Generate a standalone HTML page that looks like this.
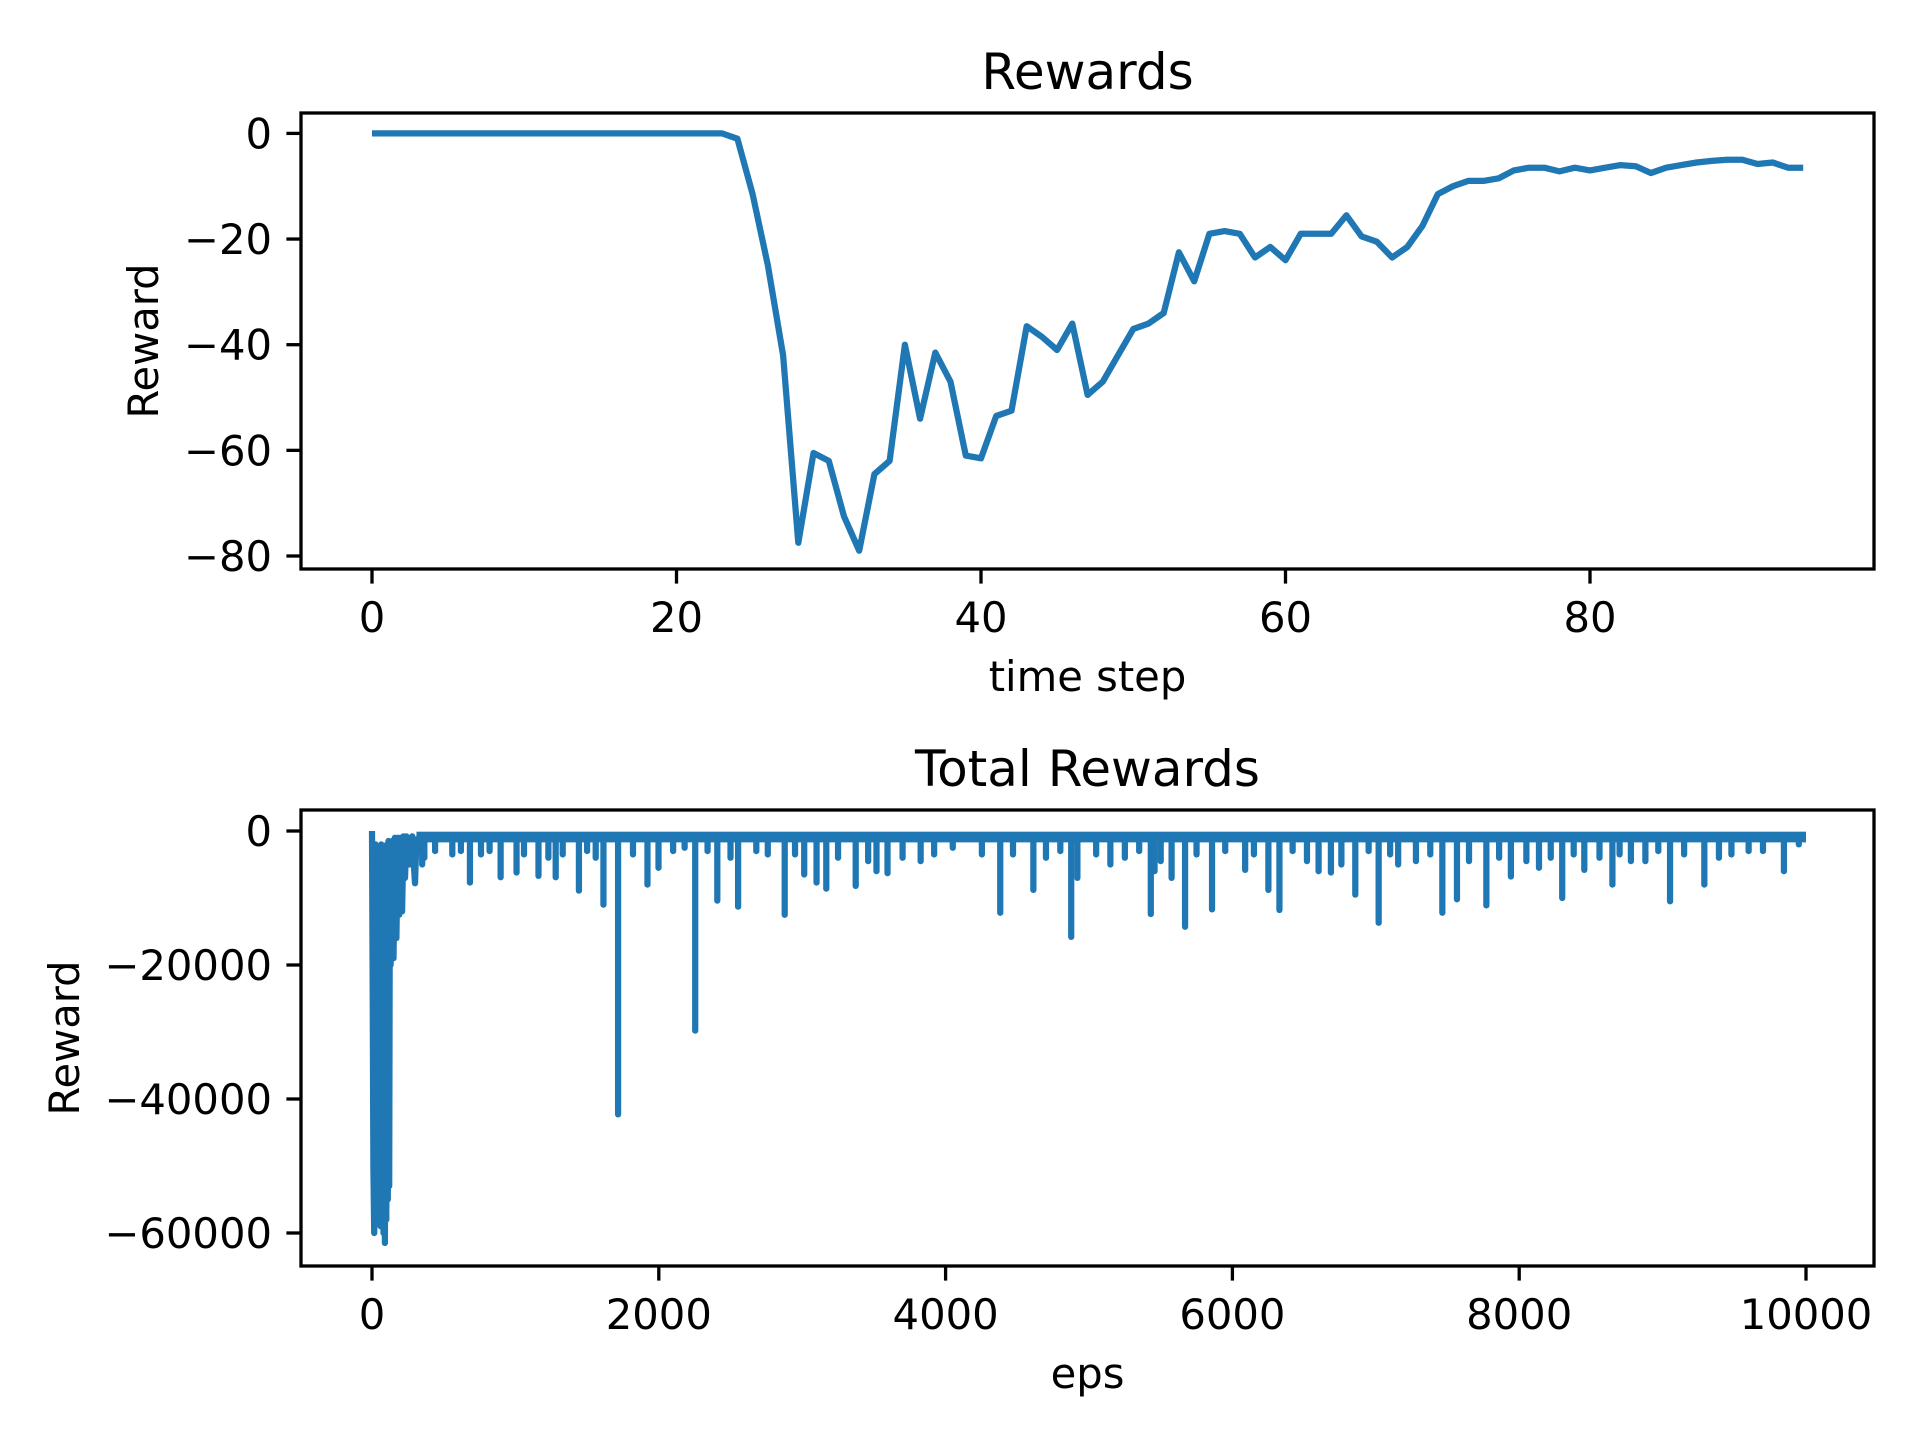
<!DOCTYPE html>
<html><head><meta charset="utf-8">
<style>
html,body{margin:0;padding:0;background:#fff;}
svg{display:block;}
text{font-family:"DejaVu Sans","Liberation Sans",sans-serif;fill:#000;}
</style></head>
<body>
<svg id="chart" width="1920" height="1440" viewBox="0 0 1920 1440" xmlns="http://www.w3.org/2000/svg">
<rect width="1920" height="1440" fill="#fff"/>
<g id="top"></g>
<g id="bot"></g>
</svg>
<script>
// ---- Top chart data ----
const topSteps = [];
const topRewards = [0,0,0,0,0,0,0,0,0,0,0,0,0,0,0,0,0,0,0,0,0,0,0,0,-1,-11.5,-25,-42,-77.5,-60.5,-62,-72.5,-79,-64.5,-62,-40,-54,-41.5,-47,-61,-61.5,-53.5,-52.5,-36.5,-38.5,-41,-36,-49.5,-47,-42,-37,-36,-34,-22.5,-28,-19,-18.5,-19,-23.5,-21.5,-24,-19,-19,-19,-15.5,-19.5,-20.5,-23.5,-21.5,-17.5,-11.5,-10,-9,-9,-8.5,-7,-6.5,-6.5,-7.2,-6.5,-7,-6.5,-6,-6.2,-7.5,-6.5,-6,-5.5,-5.2,-5,-5,-5.8,-5.5,-6.5,-6.5];
for (let i = 0; i < topRewards.length; i++) topSteps.push(i);
const topXTicks = [0,20,40,60,80];
const topYTicks = [0,-20,-40,-60,-80];

// ---- Bottom chart data ----
const earlyEps = [0,5,10,15,20,25,30,35,40,45,50,55,60,65,70,75,80,85,90,95,100,105,110,115,120,125,130,140,150,160,170,180,190,200,210,220,230,240,260,280,300,310];
const earlyVals = [0,-24000,-50000,-60000,-55000,-2000,-58000,-3000,-55000,-2500,-57000,-3000,-59000,-2000,-56000,-3000,-60000,-2500,-61500,-3000,-58000,-2000,-55000,-1500,-53000,-2000,-20000,-1500,-19000,-1000,-16000,-1000,-12500,-1000,-12000,-800,-7000,-800,-5000,-800,-7800,-800];
const spikeEps = [330,350,365,440,560,620,683,760,820,897,1008,1060,1161,1230,1281,1330,1443,1500,1560,1614,1716,1820,1921,1998,2100,2180,2254,2340,2408,2500,2553,2680,2760,2878,2950,3014,3100,3168,3250,3373,3460,3518,3595,3700,3826,3920,4050,4253,4381,4470,4612,4700,4800,4876,4919,5050,5149,5250,5350,5431,5457,5500,5576,5670,5750,5858,5950,6089,6150,6251,6328,6420,6520,6601,6687,6760,6857,6950,7020,7100,7156,7280,7380,7464,7566,7650,7771,7860,7942,8050,8138,8220,8300,8380,8454,8560,8650,8700,8779,8880,8970,9052,9150,9291,9393,9480,9600,9700,9846,9950];
const spikeVals = [-3000,-5000,-4000,-3000,-3500,-3000,-7700,-3500,-3000,-6900,-6200,-3500,-6700,-4000,-6900,-3500,-8900,-3000,-4000,-11000,-42300,-3500,-8000,-5500,-3000,-2500,-29800,-3000,-10400,-4000,-11300,-3000,-3500,-12500,-3500,-6500,-7700,-8600,-4000,-8200,-4500,-6000,-6300,-4000,-4500,-3500,-2500,-3500,-12200,-3500,-8800,-4000,-3000,-15800,-7000,-3500,-5000,-4000,-3000,-12400,-6000,-4500,-7000,-14300,-3500,-11700,-3000,-5800,-3500,-8800,-11800,-3000,-4500,-6000,-6200,-5000,-9500,-3000,-13700,-3500,-5000,-4500,-3500,-12200,-10200,-4500,-11100,-4000,-6800,-4500,-5500,-4000,-10000,-3500,-5800,-4000,-8000,-3500,-4500,-4500,-3000,-10500,-3500,-8000,-4000,-3500,-3000,-3000,-6000,-2000];
const baseBandTop = -100;
const baseBandBottom = -1700;
const lastEp = 10000;
const botXTicks = [0,2000,4000,6000,8000,10000];
const botYTicks = [0,-20000,-40000,-60000];

const NS = "http://www.w3.org/2000/svg";
const BLUE = "#1f77b4";
function el(tag, attrs, parent, txt) {
  const e = document.createElementNS(NS, tag);
  for (const k in attrs) e.setAttribute(k, attrs[k]);
  if (txt !== undefined) e.textContent = txt;
  parent.appendChild(e);
  return e;
}
function fmt(v){ return v < 0 ? "\u2212" + (-v) : String(v); }

function drawAxes(g, box, xs, ys, xTicks, yTicks, title, xlabel, ylabelX, prefix) {
  const t = el("text", {x:(box.l+box.r)/2, y:box.t-24, "font-size":50, "text-anchor":"middle"}, g, title);
  
  
  xTicks.forEach(v => {
    const x = xs(v);
    const tk = el("line", {x1:x, x2:x, y1:box.b, y2:box.b+14.6, stroke:"#000", "stroke-width":3.3}, g);
    
    
    const lb = el("text", {x:x, y:box.b+63, "font-size":41.7, "text-anchor":"middle"}, g, fmt(v));
    
    
  });
  yTicks.forEach(v => {
    const y = ys(v);
    const tk = el("line", {x1:box.l-14.6, x2:box.l, y1:y, y2:y, stroke:"#000", "stroke-width":3.3}, g);
    
    
    const lb = el("text", {x:box.l-29, y:y+15, "font-size":41.7, "text-anchor":"end"}, g, fmt(v));
    
    
  });
  const xl = el("text", {x:(box.l+box.r)/2, y:box.b+122, "font-size":41.7, "text-anchor":"middle"}, g, xlabel);
  
  
  const cy = (box.t+box.b)/2;
  const yl = el("text", {x:ylabelX, y:cy, "font-size":41.7, "text-anchor":"middle", transform:`rotate(-90 ${ylabelX} ${cy})`}, g, "Reward");
  
  
}
function frame(g, box, prefix) {
  const f = el("rect", {x:box.l, y:box.t, width:box.r-box.l, height:box.b-box.t, fill:"none", stroke:"#000", "stroke-width":3.3}, g);
  
  
}

// Top chart
(function(){
  const g = document.getElementById("top");
  const box = {l:301, r:1874, t:113, b:569};
  const xs = v => 372 + v * (1590-372)/80;
  const ys = v => 133.4 + (-v) * (556-133.4)/80;
  drawAxes(g, box, xs, ys, topXTicks, topYTicks, "Rewards", "time step", 158, "rewards");
  const pts = topSteps.map((s,i) => xs(s).toFixed(1) + "," + ys(topRewards[i]).toFixed(1)).join(" ");
  const line = el("polyline", {points:pts, fill:"none", stroke:BLUE, "stroke-width":6.25, "stroke-linejoin":"round"}, g);
  
  
  frame(g, box, "rewards");
})();

// Bottom chart
(function(){
  const g = document.getElementById("bot");
  const box = {l:301, r:1874, t:810, b:1266};
  const xs = v => 372 + v * (1806-372)/10000;
  const ys = v => 831 + (-v) * (1233-831)/60000;
  drawAxes(g, box, xs, ys, botXTicks, botYTicks, "Total Rewards", "eps", 79, "total-rewards");
  const band = el("rect", {x:xs(earlyEps[earlyEps.length-1]), y:ys(baseBandTop), width:xs(lastEp)-xs(earlyEps[earlyEps.length-1]), height:ys(baseBandBottom)-ys(baseBandTop), fill:BLUE}, g);
  
  
  const early = earlyEps.map((e,i) => xs(e).toFixed(1) + "," + ys(earlyVals[i]).toFixed(1)).join(" ");
  const el1 = el("polyline", {points:early, fill:"none", stroke:BLUE, "stroke-width":6.25, "stroke-linejoin":"round"}, g);
  
  
  spikeEps.forEach((e,i) => {
    const x = xs(e);
    const s = el("line", {x1:x, x2:x, y1:ys(-800), y2:ys(spikeVals[i]), stroke:BLUE, "stroke-width":6.25, "stroke-linecap":"round"}, g);
    
    
  });
  frame(g, box, "total-rewards");
})();
</script>
</body></html>
